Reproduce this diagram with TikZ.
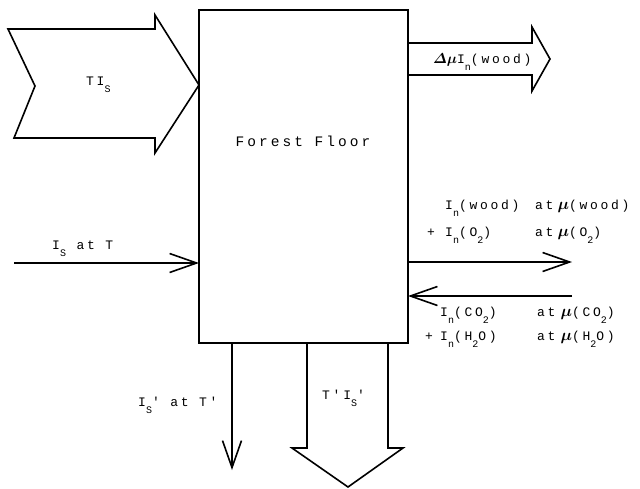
\documentclass[tikz,border=0pt]{standalone}
\usepackage{fontspec}
\usepackage{amsmath}
\usepackage{bm}
\setmonofont[LetterSpace=21]{Liberation Mono}
\usetikzlibrary{arrows.meta}
\newcommand\lw[1]{\raisebox{-7pt}{\fontsize{10}{10}\selectfont #1}}
\newcommand\mymu{\scalebox{1.35}{$\bm{\mu}$}}
\begin{document}
\begin{tikzpicture}[x=1pt,y=-1pt,
  lab/.style={font=\ttfamily\fontsize{13}{13}\selectfont, inner sep=0, anchor=base west},
  fat/.style={line width=1.6pt, line join=miter},
  thinarrow/.style={line width=1.6pt, -{Straight Barb[length=27pt,width=19pt]}}]
\useasboundingbox (0,0) rectangle (640,488);
% box
\node[draw, line width=1.6pt, minimum width=209pt, minimum height=333pt, inner sep=0, outer sep=0] (floor) at (303.5,176.5) {};
\node[font=\ttfamily\fontsize{14.5}{14.5}\selectfont, inner sep=0] (ff) at (303,141) {Forest Floor};
% fat arrow in (TI_S)
\draw[fat] (8,29) -- (155,29) -- (155,15) -- (floor.west |- 0,85) -- (155,153) -- (155,138) -- (14,138) -- (35,86) -- cycle;
\node[lab] (tis) at (86,85) {TI\lw{S}};
% fat arrow out (wood)
\draw[fat] (floor.east |- 0,43) -- (532,43) -- (532,27) -- (550,59) -- (532,91) -- (532,75) -- (floor.east |- 0,75);
\node[lab] (dmu) at (433,63) {\scalebox{1.2}{$\bm{\varDelta\mu}$}I\lw{n}(wood)};
% fat arrow down
\draw[fat] (floor.south -| 307,0) -- (307,448) -- (292,448) -- (348,487) -- (403,448) -- (388,448) -- (floor.south -| 388,0);
\node[lab] (tis2) at (322,399) {T'I\lw{S}'};
% thin arrows
\coordinate (inA) at (14,263);
\draw[thinarrow] (inA) -- (inA -| floor.west);
\node[lab] (ist) at (52,249) {I\lw{S} at T};
\coordinate (outA) at (572,262);
\draw[thinarrow] (floor.east |- outA) -- (outA);
\node[lab] (o1) at (445,209) {\makebox[90pt][l]{I\lw{n}(wood)}at\hspace{4pt}\mymu(wood)};
\node[lab] (o2) at (427,236) {\makebox[18pt][l]{+}\makebox[90pt][l]{I\lw{n}(O\lw{2})}at\hspace{4pt}\mymu(O\lw{2})};
\coordinate (inB) at (572,296);
\draw[thinarrow] (inB) -- (inB -| floor.east);
\node[lab] (i1) at (440,316) {\makebox[97pt][l]{I\lw{n}(CO\lw{2})}at\hspace{5pt}\mymu(CO\lw{2})};
\node[lab] (i2) at (425,340) {\makebox[15pt][l]{+}\makebox[97pt][l]{I\lw{n}(H\lw{2}O)}at\hspace{5pt}\mymu(H\lw{2}O)};
\coordinate (downA) at (232,470);
\draw[thinarrow] (downA |- floor.south) -- (downA);
\node[lab] (isp) at (138,406) {I\lw{S}' at T'};
\end{tikzpicture}
\end{document}
